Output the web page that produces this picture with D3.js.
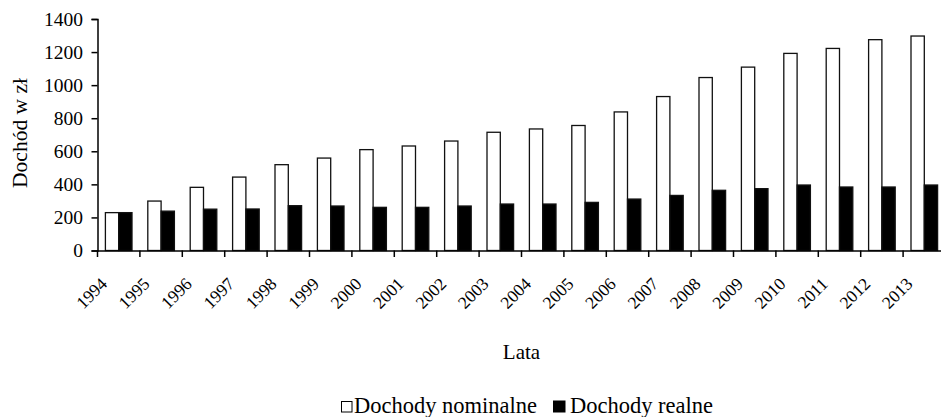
<!DOCTYPE html>
<html><head><meta charset="utf-8">
<script src="https://cdn.jsdelivr.net/npm/d3@7"></script>
<style>body{margin:0;background:#fff}svg{display:block}text{font-family:"Liberation Serif","Times New Roman",serif;fill:#000}</style>
</head><body>
<svg id="c" width="941" height="417"></svg>
<script>
const years = ["1994","1995","1996","1997","1998","1999","2000","2001","2002","2003","2004","2005","2006","2007","2008","2009","2010","2011","2012","2013"];
const nominal = [229,299,382,444,519,559,610,632,662,715,735,756,838,931,1046,1109,1192,1222,1275,1297];
const real = [229,238,250,251,271,269,261,261,269,281,281,291,311,333,364,374,396,384,384,396];
const yTicks = [0,200,400,600,800,1000,1200,1400];
const seriesNames = ["Dochody nominalne","Dochody realne"];

const svg = d3.select("#c");
const x0 = 97.5, bw = 42.4;
const x = d3.scaleBand().domain(years).range([x0, x0 + bw*years.length]).paddingInner(0).paddingOuter(0);
const y = d3.scaleLinear().domain([0,1400]).range([250.5,19]);
const inner = d3.scaleBand().domain([0,1]).range([0, x.bandwidth()]).paddingInner(0).paddingOuter(0.594);

// bars
const g = svg.append("g");
years.forEach((yr,i)=>{
  [nominal[i], real[i]].forEach((v,k)=>{
    g.append("rect")
      .attr("x", x(yr)+inner(k))
      .attr("y", y(v))
      .attr("width", inner.bandwidth())
      .attr("height", y(0)-y(v))
      .attr("fill", k===0 ? "#fff" : "#000")
      .attr("stroke", "#111").attr("stroke-width", 1.3);
  });
});

// y axis
const ya = svg.append("g").attr("transform", `translate(${x0},0)`)
  .call(d3.axisLeft(y).tickValues(yTicks).tickSize(6).tickPadding(8.5).tickFormat(d3.format("d")));
ya.select(".domain").attr("stroke","#000").attr("stroke-width",1.5);
ya.selectAll(".tick line").attr("stroke","#000").attr("stroke-width",1.5);
ya.selectAll("text").style("font-size","19.5px").attr("font-family","Liberation Serif");

// x axis
const xa = svg.append("g").attr("transform", `translate(0,${y(0)})`)
  .call(d3.axisBottom(x).tickSize(0).tickFormat(""));
xa.select(".domain").attr("stroke","#000").attr("stroke-width",1.5);
svg.append("g").selectAll("line").data(d3.range(years.length+1)).join("line")
  .attr("x1", i=>x0+i*bw).attr("x2", i=>x0+i*bw)
  .attr("y1", y(0)).attr("y2", y(0)+6.5)
  .attr("stroke","#000").attr("stroke-width",1.5);
svg.append("g").selectAll("text").data(years).join("text")
  .attr("transform", d=>`translate(${x(d)+x.bandwidth()/2-10.5},${y(0)+34.5}) rotate(-45)`)
  .attr("text-anchor","end")
  .style("font-size","17.5px").text(d=>d);

// axis titles
svg.append("text").attr("transform","translate(26.5,133) rotate(-90)")
  .attr("text-anchor","middle").style("font-size","21.5px").text("Dochód w zł");
svg.append("text").attr("x",521.5).attr("y",359).attr("text-anchor","middle")
  .style("font-size","21px").text("Lata");

// legend
const lg = svg.append("g");
lg.append("rect").attr("x",341.5).attr("y",401.5).attr("width",10.5).attr("height",10.5)
  .attr("fill","#fff").attr("stroke","#000").attr("stroke-width",1);
lg.append("text").attr("x",354).attr("y",413).style("font-size","22.5px").text(seriesNames[0]);
lg.append("rect").attr("x",553).attr("y",400.5).attr("width",12.5).attr("height",12).attr("fill","#000");
lg.append("text").attr("x",570).attr("y",413).style("font-size","22.5px").text(seriesNames[1]);
</script>
</body></html>
